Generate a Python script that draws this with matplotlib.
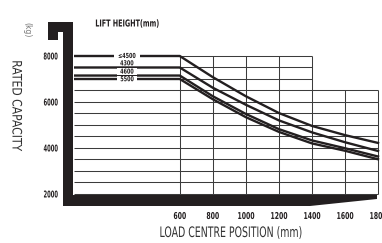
import matplotlib
matplotlib.use("Agg")
import matplotlib.pyplot as plt
from matplotlib import patheffects
from matplotlib.transforms import Affine2D
from matplotlib.patches import Polygon

# ---------------- data ----------------
load_centre = [600, 800, 1000, 1200, 1400, 1600, 1800]
lift_heights = ["\u22644500", "4300", "4600", "5500"]
cap_le4500 = [8000, 7080, 6250, 5520, 4960, 4560, 4220]
cap_4300 = [7500, 6620, 5880, 5200, 4680, 4250, 3870]
cap_4600 = [7150, 6250, 5480, 4820, 4330, 3990, 3630]
cap_5500 = [7000, 6120, 5340, 4700, 4200, 3880, 3510]
ytick_vals = [2000, 4000, 6000, 8000]
xtick_vals = [600, 800, 1000, 1200, 1400, 1600, 1800]
grid_levels = list(range(2000, 8001, 500))

INK = "#231f20"


class Condense(patheffects.AbstractPathEffect):
    """Horizontally condense text glyphs along the baseline."""

    def __init__(self, sx, anchor="center"):
        super().__init__()
        self.sx = sx
        self.anchor = anchor

    def draw_path(self, renderer, gc, tpath, affine, rgbFace=None):
        ext = tpath.get_extents()
        if self.anchor == "left":
            cx = ext.x0
        elif self.anchor == "right":
            cx = ext.x1
        else:
            cx = 0.5 * (ext.x0 + ext.x1)
        t = Affine2D().translate(-cx, 0).scale(self.sx, 1).translate(cx, 0) + affine
        renderer.draw_path(gc, tpath, t, rgbFace)


W, H = 382, 243
fig = plt.figure(figsize=(W / 100, H / 100), dpi=100)
fig.patch.set_facecolor("white")

# axes: px left 74..382, top 20..206 (top-origin)
ax = fig.add_axes([74 / W, (H - 206) / H, (382 - 74) / W, (206 - 20) / H])
ax.set_facecolor("none")
XMIN, XMAX = -40, 1824
YMIN, YMAX = 1478, 9565
ax.set_xlim(XMIN, XMAX)
ax.set_ylim(YMIN, YMAX)
for s in ax.spines.values():
    s.set_visible(False)

# grid
grid_kw = dict(color="#3c3c3c", lw=0.75, zorder=1)
for v in grid_levels:
    xend = load_centre[4] if v > 6500 else load_centre[-1]
    ax.hlines(v, XMIN, xend, **grid_kw)
for x in load_centre:
    ytop = 8000 if x <= 1400 else 6500
    ax.vlines(x, 2000, ytop, **grid_kw)

# curves
for caps in (cap_le4500, cap_4300, cap_4600, cap_5500):
    xs = [XMIN] + load_centre
    ys = [caps[0]] + caps
    ax.plot(xs, ys, color=INK, lw=1.7, solid_joinstyle="miter", zorder=3)

# curve labels (positions only, in kg-axis units)
label_y = [8000, 7680, 7320, 6990]
for lab, ly, bg in zip(lift_heights, label_y, [True, False, True, True]):
    t = ax.text(281, ly, lab, ha="center", va="center", fontsize=5.0,
                fontweight="bold", color=INK, zorder=5,
                path_effects=[Condense(0.7, "center")])
    if bg:
        t.set_bbox(dict(facecolor="white", edgecolor="none", pad=0.4))

# ticks
ax.set_yticks(ytick_vals, [str(v) for v in ytick_vals])
ax.set_xticks(xtick_vals, [str(v) for v in xtick_vals])
ax.tick_params(axis="both", length=0)
ax.tick_params(axis="y", pad=11.5)
ax.tick_params(axis="x", pad=4.3)
for lab in ax.get_yticklabels():
    lab.set_fontsize(6.8)
    lab.set_fontweight("bold")
    lab.set_color(INK)
    lab.set_path_effects([Condense(0.55, "right")])
for lab in ax.get_xticklabels():
    lab.set_fontsize(6.8)
    lab.set_fontweight("bold")
    lab.set_color(INK)
    lab.set_path_effects([Condense(0.65, "center")])

# decorative thick axes (pixel coordinates, top-origin converted)
def px(pts):
    return [(x, H - y) for x, y in pts]

left_bar = Polygon(px([(48, 22), (73, 22), (73, 206), (63, 206), (63, 32),
                       (58, 32), (58, 40), (48, 40)]),
                   closed=True, transform=None, facecolor=INK, edgecolor="none",
                   zorder=10)
bottom_bar = Polygon(px([(63, 195), (377, 195), (377, 199), (310, 206), (63, 206)]),
                     closed=True, transform=None, facecolor=INK, edgecolor="none",
                     zorder=10)
fig.patches.extend([left_bar, bottom_bar])

# texts
fig.text(95 / W, (H - 23.5) / H, "LIFT HEIGHT(mm)", ha="left", va="center",
         fontsize=6.9, fontweight="bold", color=INK,
         path_effects=[Condense(0.67, "left")])
fig.text(27 / W, (H - 30) / H, "(kg)", ha="center", va="center", rotation=270,
         fontsize=5.5, color="#777777")
fig.text(16 / W, (H - 60) / H, "RATED CAPACITY", ha="left", va="center",
         rotation=270, rotation_mode="anchor", fontsize=9.4, color="#333333",
         path_effects=[Condense(0.83, "left")])
fig.text(159 / W, (H - 233) / H, "LOAD CENTRE POSITION (mm)", ha="left",
         va="center", fontsize=10.4, color="#333333",
         path_effects=[Condense(0.65, "left")])

fig.savefig("out.png", dpi=100, facecolor="white")
